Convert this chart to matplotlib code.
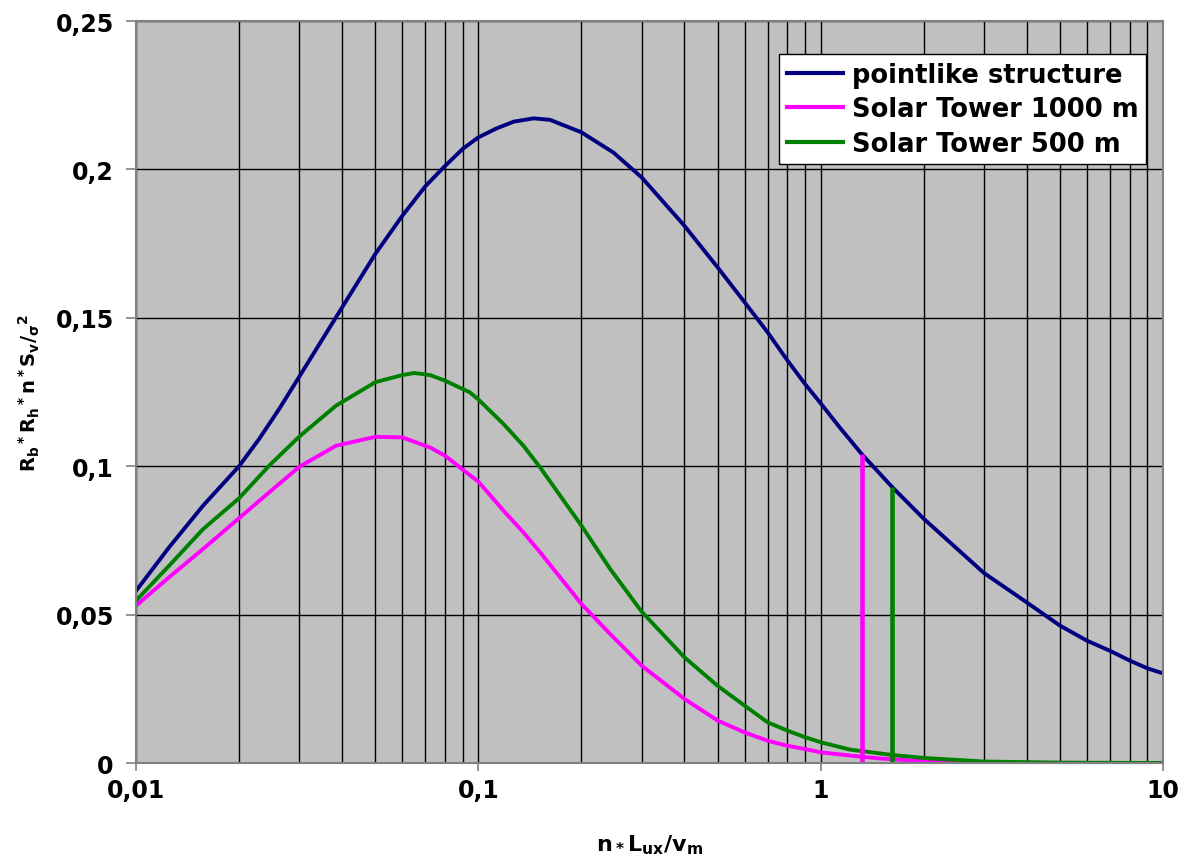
import numpy as np
import matplotlib
matplotlib.use("Agg")
import matplotlib.pyplot as plt
from matplotlib.ticker import FixedLocator, NullFormatter

#font setup: heavy bold sans everywhere, mathtext too
plt.rcParams['font.family'] = ['DejaVu Sans']
plt.rcParams['font.weight'] = 'bold'
plt.rcParams['axes.labelweight'] = 'bold'
plt.rcParams['mathtext.fontset'] = 'custom'
plt.rcParams['mathtext.rm'] = 'DejaVu Sans:bold'
plt.rcParams['mathtext.it'] = 'DejaVu Sans:bold'
plt.rcParams['mathtext.bf'] = 'DejaVu Sans:bold'
plt.rcParams['mathtext.default'] = 'rm'

#-----------------------------------------------------------------------------#
#data
x_point = [0.01, 0.0125, 0.0157, 0.02, 0.0229, 0.0262, 0.03, 0.04, 0.05,
           0.06, 0.07, 0.08, 0.09, 0.1, 0.113, 0.127, 0.145, 0.162, 0.2,
           0.248, 0.3, 0.4, 0.5, 0.6, 0.7, 0.8, 0.9, 1.0, 1.136, 1.318,
           1.62, 2.0, 3.0, 4.0, 5.0, 6.0, 7.0, 8.0, 9.0, 10.0]
y_point = [0.058, 0.0727, 0.0867, 0.1, 0.1092, 0.1193, 0.1302, 0.1535,
           0.1715, 0.1844, 0.1943, 0.2012, 0.2069, 0.2108, 0.2138, 0.2161,
           0.2172, 0.2167, 0.2125, 0.2057, 0.1973, 0.181, 0.167, 0.1552,
           0.1451, 0.1356, 0.1277, 0.1212, 0.1131, 0.1041, 0.0929, 0.0823,
           0.064, 0.0541, 0.0463, 0.0412, 0.0378, 0.0345, 0.0319, 0.0302]

x_1000 = [0.01, 0.0125, 0.0157, 0.02, 0.0245, 0.03, 0.0384, 0.05, 0.06,
          0.0723, 0.08, 0.0944, 0.1, 0.1185, 0.1354, 0.1515, 0.1733, 0.2,
          0.2426, 0.3, 0.4, 0.5, 0.6, 0.7, 0.8, 0.9, 1.0, 1.22, 1.5, 2.0,
          3.0, 10.0]
y_1000 = [0.053, 0.0626, 0.0721, 0.0825, 0.0912, 0.0998, 0.1069, 0.1099,
          0.1097, 0.1063, 0.1035, 0.097, 0.0948, 0.085, 0.0777, 0.071,
          0.0626, 0.0536, 0.0435, 0.0328, 0.0216, 0.0143, 0.0103, 0.0075,
          0.0058, 0.0047, 0.0036, 0.0025, 0.0015, 0.0006, 0.0001, 0.0]

x_500 = [0.01, 0.0125, 0.0157, 0.02, 0.0245, 0.03, 0.0384, 0.05, 0.06,
         0.065, 0.0723, 0.08, 0.0944, 0.1, 0.1185, 0.1354, 0.1515, 0.1733,
         0.2, 0.2426, 0.3, 0.4, 0.5, 0.6, 0.7, 0.8, 0.9, 1.0, 1.22, 1.62,
         2.0, 3.0, 5.0, 10.0]
y_500 = [0.0547, 0.0665, 0.0788, 0.0892, 0.1002, 0.11, 0.1204, 0.1283,
         0.1307, 0.1314, 0.1307, 0.1288, 0.1249, 0.1225, 0.1142, 0.1069,
         0.0996, 0.0901, 0.08, 0.0654, 0.051, 0.0356, 0.026, 0.0193,
         0.0137, 0.0109, 0.0087, 0.007, 0.0045, 0.0027, 0.0017, 0.0005,
         0.0001, 0.0]

#eigenfrequency markers (x position, height up to pointlike curve)
freq_1000 = 1.318
top_1000 = 0.1041
freq_500 = 1.62
top_500 = 0.0929

labels = ["pointlike structure", "Solar Tower 1000 m", "Solar Tower 500 m"]
x_ticks = [0.01, 0.1, 1, 10]
x_tick_labels = ["0,01", "0,1", "1", "10"]
y_ticks = [0, 0.05, 0.1, 0.15, 0.2, 0.25]
y_tick_labels = ["0", "0,05", "0,1", "0,15", "0,2", "0,25"]

#-----------------------------------------------------------------------------#
W, H = 1187, 862
fig = plt.figure(figsize=(W / 100, H / 100), dpi=100)
ax = fig.add_axes([136 / W, 1 - 764 / H, (1163 - 136) / W, (764 - 22) / H])
ax.set_facecolor("#C0C0C0")

ax.plot(x_point, y_point, color="#000080", lw=2.8, label=labels[0])
ax.plot(x_1000, y_1000, color="#FF00FF", lw=2.8, label=labels[1])
ax.plot(x_500, y_500, color="#008000", lw=2.8, label=labels[2])

#vertical marker lines
ax.plot([freq_1000, freq_1000], [0, top_1000], color="#FF00FF", lw=3.3,
        solid_capstyle="butt")
ax.plot([freq_500, freq_500], [0, top_500], color="#008000", lw=3.3,
        solid_capstyle="butt")

ax.set_xscale("log")
ax.set_xlim(0.01, 10)
ax.set_ylim(0, 0.25)

ax.xaxis.set_major_locator(FixedLocator(x_ticks))
ax.xaxis.set_minor_locator(FixedLocator(
    [m * 10.0 ** e for e in range(-2, 1) for m in range(2, 10)]))
ax.xaxis.set_minor_formatter(NullFormatter())
ax.set_xticks(x_ticks, x_tick_labels)
ax.set_yticks(y_ticks, y_tick_labels)

ax.grid(True, which="both", axis="x", color="black", lw=1.0)
ax.grid(True, which="major", axis="y", color="black", lw=1.0)
ax.set_axisbelow(True)

for s in ax.spines.values():
    s.set_color("#808080")
    s.set_linewidth(1.5)

ax.tick_params(axis="y", which="major", length=7, width=1.2,
               color="#808080", pad=9, labelsize=17)
ax.tick_params(axis="x", which="major", length=6, width=1.2,
               color="#808080", pad=5, labelsize=17)
ax.tick_params(axis="x", which="minor", length=0)

ax.set_xlabel("n$_*$L$_{ux}$/v$_m$", fontsize=16, fontweight="bold",
              labelpad=22)
ax.set_ylabel("R$_b$$^*$R$_h$$^*$n$^*$S$_v$/$_\\sigma$$^2$", fontsize=14,
              fontweight="bold", labelpad=10)

leg = ax.legend(loc="upper right", bbox_to_anchor=(0.9834, 0.9555),
                prop={"size": 18.5, "weight": "bold"}, frameon=True,
                fancybox=False, framealpha=1, edgecolor="black",
                handlelength=2.2, borderpad=0.3, labelspacing=0.33,
                handletextpad=0.32, borderaxespad=0)
leg.get_frame().set_linewidth(1.0)
for line in leg.get_lines():
    line.set_linewidth(3)

fig.savefig("out.png", dpi=100)
